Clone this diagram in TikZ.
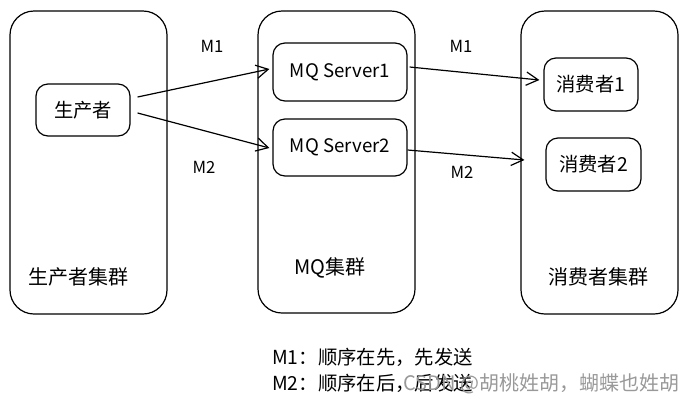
\documentclass[tikz,border=0pt]{standalone}
\usepackage{fontspec}
\setmainfont{Noto Sans CJK SC}
\usetikzlibrary{arrows.meta,calc}
\begin{document}
\begin{tikzpicture}[x=0.75pt,y=-0.75pt,
  cluster/.style={draw,line width=0.9pt,rounded corners=18pt,inner sep=0pt},
  box/.style={draw,line width=0.9pt,rounded corners=9pt,inner sep=0pt,font=\fontsize{14.5}{17}\selectfont},
  lbl/.style={font=\fontsize{15}{18}\selectfont},
  mlbl/.style={font=\fontsize{12.5}{15}\selectfont},
  arr/.style={line width=0.9pt,-{Straight Barb[length=9pt,width=10pt,line width=0.9pt]}}]
\useasboundingbox (0,0) rectangle (688,408);
\node[cluster,minimum width=117.75pt,minimum height=227.25pt] (pc) at (88.5,162.5) {};
\node[cluster,minimum width=117.75pt,minimum height=226.5pt] (mc) at (336.5,162) {};
\node[cluster,minimum width=117.75pt,minimum height=227.25pt] (cc) at (599.5,162.5) {};
\node[box,minimum width=70.5pt,minimum height=39pt] (prod) at (83,110) {生产者};
\node[box,minimum width=100.5pt,minimum height=43.5pt,font=\fontsize{14}{16}\selectfont] (s1) at (340,72) {MQ Server1};
\node[box,minimum width=100.5pt,minimum height=42.75pt,font=\fontsize{14}{16}\selectfont] (s2) at (340,147.5) {MQ Server2};
\node[box,minimum width=70.5pt,minimum height=39.75pt] (c1) at (591,84.5) {消费者1};
\node[box,minimum width=71.25pt,minimum height=39.75pt] (c2) at (593.5,164.5) {消费者2};
\node[lbl] (pl) at (78,277) {生产者集群};
\node[lbl] (ml) at (330,268) {MQ集群};
\node[lbl] (cl) at (598,277) {消费者集群};
\node[mlbl] (m1a) at (212,46) {M1};
\node[mlbl] (m2a) at (204,167) {M2};
\node[mlbl] (m1b) at (461,46) {M1};
\node[mlbl] (m2b) at (462,172) {M2};
\draw[arr] ($(prod.east)+(7,-13)$) -- ($(s1.west)+(-3,-3)$);
\draw[arr] ($(prod.east)+(7,3)$) -- ($(s2.west)+(-3,0.5)$);
\draw[arr] ($(s1.east)+(2,-5)$) -- ($(c1.west)+(-4,-4.5)$);
\draw[arr] ($(s2.east)+(0,2.5)$) -- ($(c2.west)+(-21,-4.5)$);
\node[anchor=west,inner sep=0pt,font=\fontsize{14.5}{17}\selectfont] (leg1) at (272,357) {M1：顺序在先，先发送};
\node[anchor=west,inner sep=0pt,font=\fontsize{14.5}{17}\selectfont] (leg2) at (272,383) {M2：顺序在后，后发送};
\node[anchor=west,inner sep=0pt,text=black!40,font=\fontsize{15}{18}\selectfont] (wm) at (403,384) {CSDN @胡桃姓胡，蝴蝶也姓胡};
\end{tikzpicture}
\end{document}
